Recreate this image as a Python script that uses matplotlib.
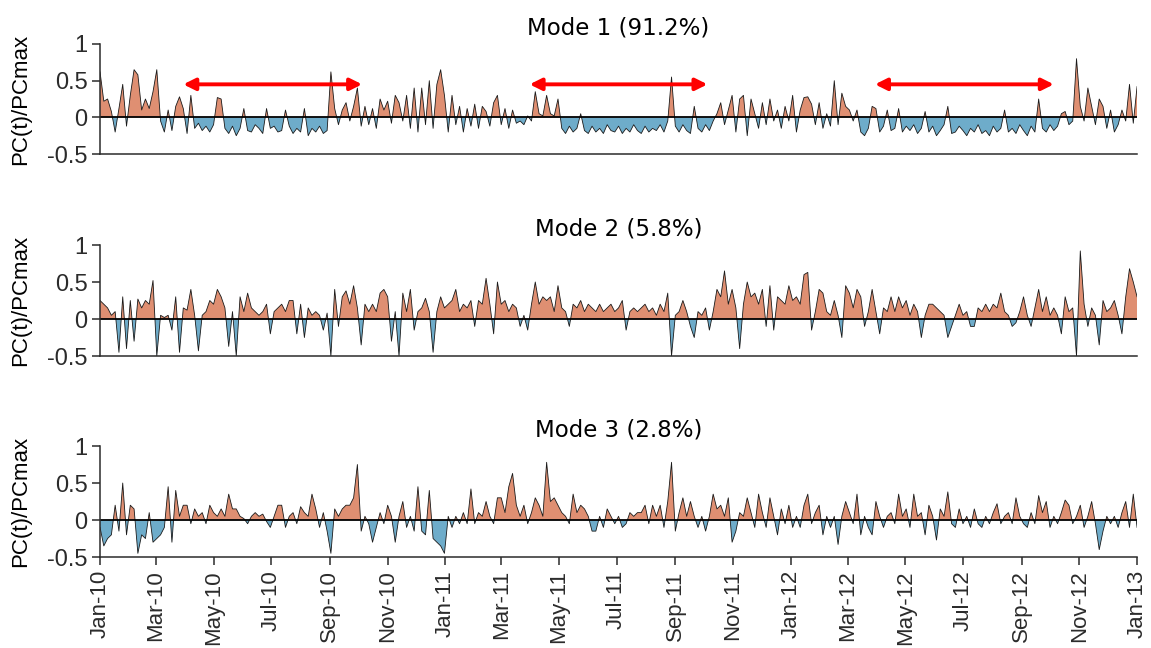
import numpy as np
import pandas as pd
import matplotlib
matplotlib.use('Agg')
import matplotlib.pyplot as plt
import matplotlib.dates as mdates

plt.rcParams['axes.unicode_minus'] = False

# ── data: normalised PC time series, one value every 4 days from 1 Jan 2010 ──
start_date = '2010-01-01'
step = '4D'

titles = ['Mode 1 (91.2%)', 'Mode 2 (5.8%)', 'Mode 3 (2.8%)']

mode1 = [
    0.62, 0.22, 0.25, 0.08, -0.20, 0.12, 0.45, -0.12, 0.30, 0.65,
    0.58, 0.10, 0.25, 0.12, 0.35, 0.65, -0.05, -0.20, 0.10, -0.18,
    0.15, 0.28, 0.12, -0.22, 0.30, -0.15, -0.08, -0.18, -0.12, -0.20,
    -0.10, 0.27, 0.25, -0.15, -0.22, -0.12, -0.25, -0.15, 0.12, -0.18,
    -0.20, -0.10, -0.15, -0.22, 0.12, -0.15, -0.12, -0.20, -0.18, 0.10,
    -0.12, -0.22, -0.15, -0.20, 0.12, -0.25, -0.15, -0.20, -0.12, -0.22,
    -0.18, 0.62, 0.12, -0.10, 0.10, 0.20, -0.05, 0.15, 0.40, -0.12,
    0.15, -0.10, 0.12, -0.15, 0.25, 0.10, 0.22, -0.08, 0.30, 0.20,
    -0.05, 0.30, -0.15, 0.40, -0.20, 0.40, -0.10, 0.50, -0.15, 0.45,
    0.65, 0.30, -0.20, 0.30, -0.10, 0.15, -0.20, 0.12, -0.12, 0.18,
    -0.15, 0.15, 0.08, -0.12, 0.20, 0.30, -0.10, 0.12, -0.15, 0.10,
    -0.08, -0.05, -0.10, 0.02, -0.05, 0.35, 0.05, 0.02, 0.30, 0.05,
    0.02, 0.25, -0.15, -0.22, -0.12, -0.20, -0.15, 0.05, -0.18, -0.22,
    -0.12, -0.20, -0.15, -0.22, -0.10, -0.18, -0.20, -0.12, -0.22, -0.15,
    -0.20, -0.10, -0.18, -0.22, -0.12, -0.20, -0.15, -0.18, -0.10, -0.20,
    -0.05, 0.55, -0.12, -0.20, -0.10, -0.18, -0.22, 0.15, -0.15, -0.20,
    -0.10, -0.18, -0.05, 0.05, 0.20, -0.10, 0.10, 0.30, -0.20, 0.25,
    0.30, -0.25, 0.25, 0.05, -0.15, 0.20, -0.10, 0.25, -0.05, 0.10,
    -0.15, 0.15, -0.05, 0.30, -0.20, 0.10, 0.27, 0.28, 0.18, -0.10,
    0.20, -0.15, 0.05, -0.12, 0.50, -0.10, 0.33, 0.15, 0.10, -0.05,
    0.10, -0.20, -0.25, -0.15, 0.15, 0.12, -0.20, -0.12, 0.10, -0.18,
    -0.15, 0.12, -0.20, -0.12, -0.18, -0.10, -0.22, -0.15, 0.08, -0.20,
    -0.12, -0.25, -0.18, -0.10, 0.15, -0.22, -0.20, -0.12, -0.18, -0.25,
    -0.15, -0.20, -0.10, -0.22, -0.18, -0.25, -0.12, -0.20, -0.15, 0.10,
    -0.20, -0.15, -0.22, -0.10, -0.18, -0.25, -0.12, -0.20, 0.25, -0.15,
    -0.20, -0.10, -0.18, -0.12, 0.05, 0.08, -0.10, -0.05, 0.80, 0.15,
    -0.05, 0.40, 0.15, -0.10, 0.25, 0.15, -0.15, 0.10, -0.20, -0.10,
    0.10, -0.05, 0.45, -0.08, 0.42,
]

mode2 = [
    0.25, 0.20, 0.15, 0.05, 0.10, -0.45, 0.30, -0.40, 0.25, -0.30,
    0.27, 0.15, 0.25, 0.20, 0.52, -0.50, 0.05, 0.02, 0.05, -0.15,
    0.30, -0.45, 0.15, 0.12, 0.40, 0.05, -0.43, 0.05, 0.10, 0.25,
    0.20, 0.40, 0.30, 0.15, -0.37, 0.10, -0.50, 0.30, 0.10, 0.35,
    0.15, 0.10, 0.05, 0.10, 0.20, -0.20, 0.10, 0.15, 0.20, 0.10,
    0.25, 0.25, -0.20, 0.20, -0.25, 0.15, 0.05, 0.10, 0.05, -0.15,
    0.08, -0.50, 0.40, -0.10, 0.30, 0.38, 0.20, 0.45, 0.15, -0.35,
    0.20, 0.10, 0.20, 0.10, 0.35, 0.40, 0.30, -0.30, 0.10, -0.50,
    0.35, 0.10, 0.40, -0.15, 0.10, 0.15, 0.28, 0.10, -0.45, 0.10,
    0.30, 0.15, 0.20, 0.25, 0.40, 0.10, 0.20, 0.15, 0.25, -0.10,
    0.25, 0.20, 0.55, 0.20, -0.20, 0.50, 0.20, 0.25, 0.10, 0.20,
    0.15, -0.10, 0.05, -0.15, 0.20, 0.50, 0.20, 0.30, 0.25, 0.30,
    0.10, 0.45, 0.15, 0.10, -0.10, 0.20, 0.15, 0.25, 0.10, 0.20,
    0.15, 0.10, 0.20, 0.10, 0.15, 0.20, 0.10, 0.15, 0.25, -0.15,
    0.10, 0.15, 0.10, 0.15, 0.20, 0.10, 0.15, 0.05, 0.20, 0.10,
    0.35, -0.50, 0.05, 0.10, 0.25, 0.10, -0.10, -0.25, 0.10, 0.05,
    0.15, -0.15, 0.10, 0.40, 0.30, 0.65, 0.20, 0.40, 0.15, -0.40,
    0.20, 0.50, 0.30, 0.35, 0.20, 0.40, -0.10, 0.45, -0.15, 0.30,
    0.25, 0.20, 0.45, 0.25, 0.30, 0.20, 0.60, 0.63, -0.15, 0.10,
    0.40, 0.35, 0.10, 0.05, 0.25, 0.05, -0.25, 0.45, 0.35, 0.15,
    0.40, 0.30, -0.10, 0.10, 0.40, 0.10, -0.20, 0.15, 0.10, 0.30,
    0.10, 0.30, 0.15, 0.25, 0.05, 0.20, 0.10, -0.25, 0.05, 0.20,
    0.20, 0.15, 0.10, 0.05, -0.25, -0.10, 0.05, 0.20, 0.05, 0.10,
    -0.10, -0.10, 0.15, 0.10, 0.20, 0.10, 0.20, 0.15, 0.35, 0.10,
    0.05, -0.10, -0.05, 0.10, 0.30, 0.05, -0.10, 0.15, 0.40, 0.10,
    0.30, 0.05, 0.15, 0.05, -0.20, 0.30, 0.10, 0.15, -0.50, 0.92,
    0.20, -0.10, 0.15, 0.05, -0.35, 0.25, 0.10, 0.15, 0.25, 0.05,
    -0.20, 0.30, 0.68, 0.50, 0.30,
]

mode3 = [
    -0.10, -0.35, -0.25, -0.20, 0.20, -0.15, 0.50, -0.20, 0.20, 0.15,
    -0.45, -0.20, -0.25, 0.10, -0.30, -0.25, -0.20, -0.10, 0.45, -0.30,
    0.40, 0.05, 0.20, 0.20, -0.05, 0.15, 0.05, 0.10, -0.05, 0.20,
    0.10, 0.05, 0.15, 0.05, 0.35, 0.15, 0.15, 0.05, 0.02, -0.05,
    0.05, 0.10, 0.05, 0.08, -0.02, -0.10, 0.05, 0.20, 0.20, -0.10,
    0.05, 0.10, -0.05, 0.18, 0.10, 0.05, 0.35, 0.15, -0.10, 0.10,
    -0.15, -0.45, 0.15, 0.05, 0.15, 0.20, 0.20, 0.30, 0.75, -0.15,
    0.05, -0.05, -0.30, -0.10, 0.10, -0.05, 0.20, 0.05, -0.30, 0.05,
    0.25, -0.10, 0.05, -0.15, 0.45, -0.15, -0.20, 0.40, -0.25, -0.30,
    -0.35, -0.45, 0.05, -0.10, 0.05, -0.05, 0.10, -0.05, 0.42, -0.05,
    0.10, 0.05, 0.25, 0.05, -0.05, 0.30, 0.30, 0.10, 0.45, 0.63,
    0.20, 0.05, 0.20, -0.05, 0.10, 0.30, 0.20, 0.05, 0.78, 0.25,
    0.30, 0.20, 0.10, 0.05, -0.05, 0.35, 0.10, 0.20, 0.15, 0.05,
    -0.15, -0.15, 0.05, -0.10, 0.15, 0.05, -0.05, 0.05, -0.10, -0.05,
    0.10, 0.05, 0.10, 0.10, 0.20, -0.05, 0.20, 0.05, 0.20, -0.10,
    0.25, 0.78, -0.15, 0.10, 0.30, 0.05, 0.25, 0.05, -0.10, 0.05,
    -0.15, 0.05, 0.35, 0.15, 0.20, 0.05, 0.30, -0.30, -0.15, 0.10,
    0.05, 0.30, 0.10, -0.10, 0.35, 0.10, -0.10, 0.30, 0.05, -0.20,
    0.15, -0.05, 0.20, -0.10, 0.05, -0.10, 0.20, 0.35, -0.05, 0.10,
    0.20, -0.20, 0.05, -0.10, 0.05, -0.33, 0.05, 0.25, 0.10, -0.05,
    0.35, -0.20, 0.05, -0.10, -0.20, 0.25, 0.05, -0.10, 0.05, 0.10,
    -0.05, 0.35, 0.05, 0.15, -0.10, 0.35, 0.05, 0.10, -0.20, 0.20,
    0.05, -0.27, 0.15, 0.05, 0.38, -0.05, -0.10, 0.15, -0.05, 0.05,
    -0.10, 0.15, -0.05, -0.10, 0.05, -0.05, 0.10, 0.22, -0.05, 0.05,
    0.10, -0.05, 0.30, 0.05, -0.05, -0.10, 0.10, -0.05, 0.33, 0.10,
    0.25, -0.10, 0.05, -0.05, 0.10, 0.27, 0.20, -0.05, 0.05, 0.20,
    -0.10, 0.05, 0.25, -0.05, -0.40, -0.15, 0.05, -0.05, 0.05, -0.10,
    0.10, 0.25, -0.10, 0.35, -0.10,
]

# warm seasons marked by arrows on mode 1
season_start = ['2010-03-30', '2011-03-31', '2012-03-30']
season_end = ['2010-10-05', '2011-10-05', '2012-10-05']
arrow_level = 0.45

y_ticks = [-0.5, 0, 0.5, 1]
y_ticklabels = ['-0.5', '0', '0.5', '1']

pos_color = '#df8f72'
neg_color = '#6eacca'
ink = '#2b2b2b'

# ── figure ──────────────────────────────────────────────────
fig = plt.figure(figsize=(11.51, 6.48), dpi=100)
panel_rects = [
    [0.0869, 0.7623, 0.9010, 0.1698],
    [0.0869, 0.4506, 0.9010, 0.1713],
    [0.0869, 0.1404, 0.9010, 0.1713],
]

all_modes = [mode1, mode2, mode3]
xmin = mdates.date2num(pd.Timestamp('2010-01-01'))
xmax = mdates.date2num(pd.Timestamp('2013-01-01'))

for k, (vals, title, rect) in enumerate(zip(all_modes, titles, panel_rects)):
    ax = fig.add_axes(rect)
    dates = pd.date_range(start_date, periods=len(vals), freq=step)
    x = mdates.date2num(dates)
    y = np.array(vals)

    ax.fill_between(x, y, 0, where=y >= 0, interpolate=True,
                    color=pos_color, lw=0)
    ax.fill_between(x, y, 0, where=y <= 0, interpolate=True,
                    color=neg_color, lw=0)
    ax.plot(x, y, color='#1a1a1a', lw=0.6)
    ax.axhline(0, color='black', lw=1.3)

    ax.set_xlim(xmin, xmax)
    ax.set_ylim(-0.5, 1)
    ax.set_yticks(y_ticks)
    ax.set_yticklabels(y_ticklabels, family='Liberation Sans', fontsize=17,
                       color=ink)
    ax.set_ylabel('PC(t)/PCmax', family='Liberation Sans', fontsize=16,
                  color='black')
    ax.yaxis.set_label_coords(-0.066, 0.5)
    ax.set_title(title, fontsize=16.5, pad=7, color='black')

    for side in ['top', 'right']:
        ax.spines[side].set_visible(False)
    for side in ['left', 'bottom']:
        ax.spines[side].set_color(ink)
        ax.spines[side].set_linewidth(1.1)
    ax.tick_params(axis='y', direction='out', length=6, width=1.1,
                   color=ink, pad=3)

    ax.xaxis.set_major_locator(mdates.MonthLocator(bymonth=[1, 3, 5, 7, 9, 11]))
    ax.xaxis.set_major_formatter(mdates.DateFormatter('%b-%y'))
    if k < 2:
        ax.tick_params(axis='x', bottom=False, labelbottom=False)
    else:
        ax.tick_params(axis='x', direction='out', length=6, width=1.1,
                       color=ink, labelsize=16, labelcolor=ink)
        for lab in ax.get_xticklabels():
            lab.set_rotation(90)
            lab.set_family('Liberation Sans')

    if k == 0:
        for s, e in zip(season_start, season_end):
            ax.annotate('', xy=(mdates.date2num(pd.Timestamp(e)), arrow_level),
                        xytext=(mdates.date2num(pd.Timestamp(s)), arrow_level),
                        arrowprops=dict(arrowstyle='<|-|>,head_length=0.7,head_width=0.35',
                                        color='red', lw=2.8,
                                        shrinkA=0, shrinkB=0))

fig.savefig('out.png', dpi=100)
